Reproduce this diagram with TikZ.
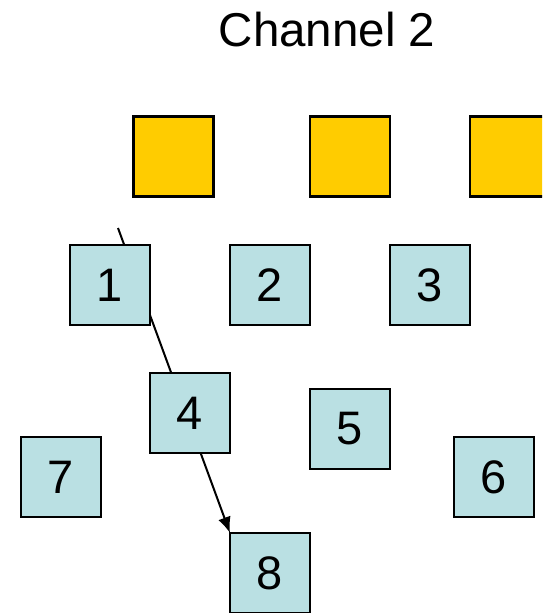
\documentclass[tikz,border=0pt]{standalone}
\usepackage{fontspec}
\setmainfont{Liberation Sans}
\usetikzlibrary{arrows.meta}
\definecolor{chanyellow}{HTML}{FFCC00}
\definecolor{cellblue}{HTML}{BAE0E3}
\tikzset{
  chanbox/.style={draw=black, line width=2.5pt, fill=chanyellow, minimum width=80pt, minimum height=80pt, inner sep=0pt},
  cellbox/.style={draw=black, line width=2.5pt, fill=cellblue, minimum width=80pt, minimum height=80pt, inner sep=0pt, font=\fontsize{47}{50}\selectfont},
  pathline/.style={line width=2pt, -{Latex[length=16pt,width=13pt]}}
}
\begin{document}
\begin{tikzpicture}[x=1pt,y=-1pt]
\useasboundingbox (0,0) rectangle (542,613);
\clip (0,0) rectangle (542,613);
\node[font=\fontsize{47.5}{50}\selectfont] (title) at (327,30) {Channel 2};
\node[chanbox] (c1) at (173.5,156.5) {};
\node[chanbox] (c2) at (350,156.5) {};
\node[chanbox] (c3) at (510,156.5) {};
\coordinate (start) at (118,228);
\coordinate (tip) at (230,533);
\draw[pathline] (start) -- (tip);
\node[cellbox] (b1) at (110,285) {1};
\node[cellbox] (b2) at (270,285) {2};
\node[cellbox] (b3) at (430,285) {3};
\node[cellbox] (b4) at (190,413) {4};
\node[cellbox] (b5) at (350,429) {5};
\node[cellbox] (b7) at (61,477) {7};
\node[cellbox] (b6) at (494,477) {6};
\node[cellbox] (b8) at (270,573) {8};
\end{tikzpicture}
\end{document}
